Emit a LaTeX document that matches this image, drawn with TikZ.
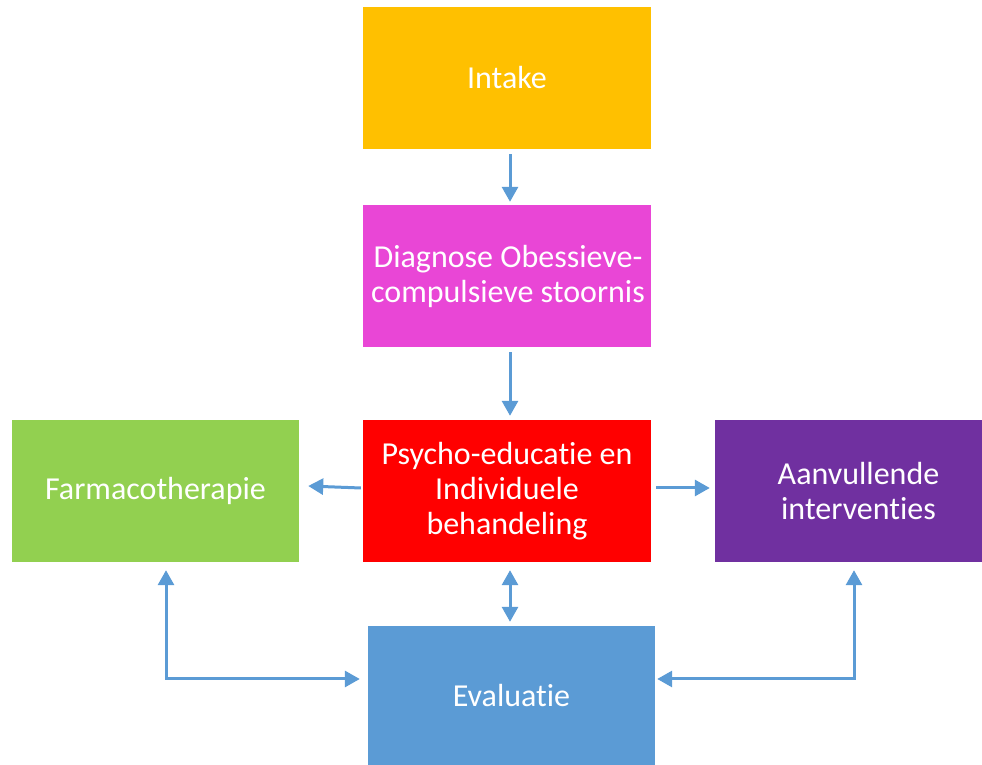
\documentclass[tikz,border=0pt]{standalone}
\usepackage{fontspec}
\setmainfont[Ligatures=NoCommon]{Carlito}
\usetikzlibrary{arrows.meta}
\definecolor{cIntake}{HTML}{FFC000}
\definecolor{cDiag}{HTML}{E946D6}
\definecolor{cPsy}{HTML}{FF0000}
\definecolor{cFarm}{HTML}{92D050}
\definecolor{cAan}{HTML}{7030A0}
\definecolor{cEval}{HTML}{5B9BD5}
\definecolor{cArr}{HTML}{5B9BD5}
\begin{document}
\begin{tikzpicture}[x=1pt,y=1pt,
  box/.style={draw=none, minimum width=288pt, minimum height=142pt, inner sep=0pt,
    text=white, align=center, font=\fontsize{32}{35}\selectfont},
  arr/.style={draw=cArr, line width=3pt, -{Triangle[length=15pt,width=16pt]}},
  arrb/.style={draw=cArr, line width=3pt, {Triangle[length=15pt,width=16pt]}-{Triangle[length=15pt,width=16pt]}}]
\useasboundingbox (0,0) rectangle (982,765);
\node[box, fill=cIntake] (intake) at (507,687) {Intake};
\node[box, fill=cDiag] (diag) at (507,489) {\hspace*{2pt}Diagnose Obessieve-\\\hspace*{2pt}compulsieve stoornis};
\node[box, fill=cPsy] (psy) at (507,274) {Psycho-educatie en\\Individuele\\behandeling};
\node[box, fill=cFarm, minimum width=287pt] (farm) at (155.5,274) {Farmacotherapie};
\node[box, fill=cAan, minimum width=267pt] (aan) at (848.5,274) {\hspace*{20pt}Aanvullende\\\hspace*{20pt}interventies};
\node[box, fill=cEval, minimum width=287pt, minimum height=139pt] (eval) at (511.5,69.5) {Evaluatie};
\draw[arr] ([xshift=3pt,yshift=-5pt]intake.south) -- ([xshift=3pt,yshift=3pt]diag.north);
\draw[arr] ([xshift=3pt,yshift=-5pt]diag.south) -- ([xshift=3pt,yshift=4pt]psy.north);
\draw[arr] ([xshift=-2pt,yshift=3pt]psy.west) -- ([xshift=9pt,yshift=5pt]farm.east);
\draw[arr] ([xshift=5pt,yshift=3pt]psy.east) -- ([xshift=-5pt,yshift=3pt]aan.west);
\draw[arrb] ([xshift=3pt,yshift=-8pt]psy.south) -- ([xshift=-1.5pt,yshift=4pt]eval.north);
\draw[arrb] ([xshift=10.5pt,yshift=-8pt]farm.south) |- ([xshift=-8pt,yshift=16.5pt]eval.west);
\draw[arrb] ([xshift=5.5pt,yshift=-8pt]aan.south) |- ([xshift=2pt,yshift=16.5pt]eval.east);
\end{tikzpicture}
\end{document}
